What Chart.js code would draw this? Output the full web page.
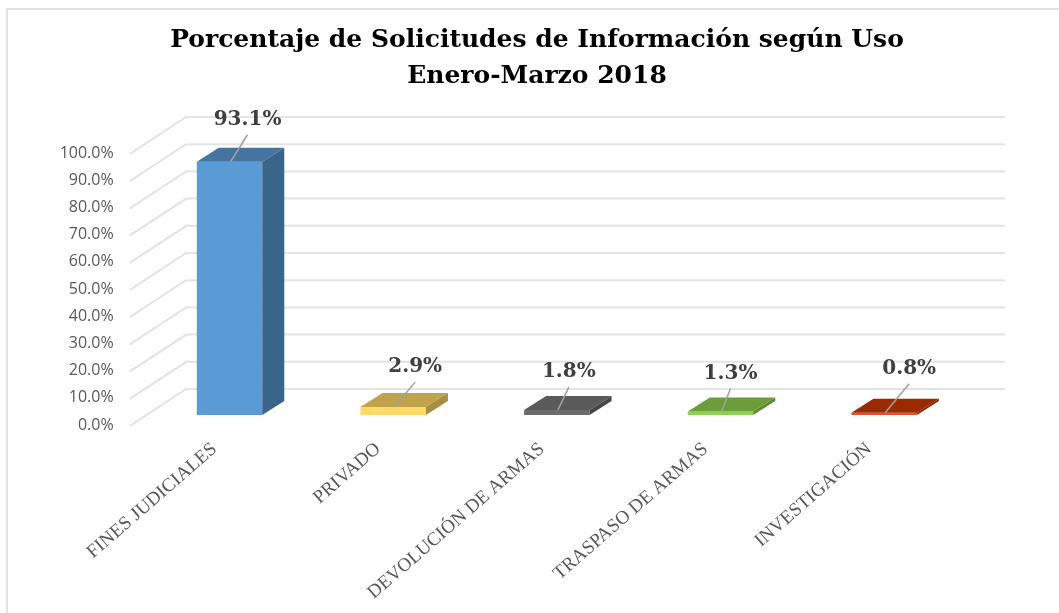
<!DOCTYPE html>
<html>
<head>
<meta charset="utf-8">
<title>Porcentaje de Solicitudes</title>
<script src="https://cdn.jsdelivr.net/npm/chart.js@4"></script>
<style>
html, body { margin: 0; padding: 0; background: #fff; overflow: hidden; }
#wrap { position: relative; width: 1059px; height: 613px; }
#frame { position: absolute; left: 6px; top: 8px; right: 0; bottom: 0; border-top: 2px solid #e2e2e2; border-left: 2px solid #e2e2e2; }
</style>
</head>
<body>
<div id="wrap">
  <div id="frame"></div>
  <canvas id="usoChart" width="1059" height="613"></canvas>
</div>
<script>
const titleLines = ['Porcentaje de Solicitudes de Información según Uso', 'Enero-Marzo 2018'];
const categories = ['FINES JUDICIALES', 'PRIVADO', 'DEVOLUCIÓN DE ARMAS', 'TRASPASO DE ARMAS', 'INVESTIGACIÓN'];
const values = [93.1, 2.9, 1.8, 1.3, 0.8];
const frontColors = ['#5b9bd5', '#ffd966', '#6b6b6b', '#8ed04f', '#e2532a'];
const topColors = ['#44749f', '#bfa34b', '#5a5a5a', '#6d9c3b', '#9c2a00'];
const sideColors = ['#3a658a', '#a68e40', '#474747', '#5c8a31', '#862400'];
const labelShift = [[18, -42], [22, -40], [12, -38], [10, -38], [25, -44]];

// the bars sit in the middle of the floor, the grid on the back wall
const barLift = -10;
const depthX = 22, depthY = -14;

const fake3d = {
    id: 'fake3d',
    beforeDatasetsDraw(chart) {
        const ctx = chart.ctx;
        const yScale = chart.scales.y;
        const left = chart.chartArea.left;
        ctx.save();
        ctx.strokeStyle = '#e3e3e3';
        ctx.lineWidth = 2;
        yScale.ticks.forEach(t => {
            const y = yScale.getPixelForValue(t.value);
            ctx.beginPath();
            ctx.moveTo(left - 18, y + 1);
            ctx.lineTo(left + 38.5, y - 36);
            ctx.lineTo(1005, y - 36);
            ctx.stroke();
        });
        ctx.restore();
        // move the native bars up on to the floor
        ctx.save();
        ctx.translate(0, barLift);
    },
    afterDatasetsDraw(chart) {
        const ctx = chart.ctx;
        ctx.restore();
        chart.getDatasetMeta(0).data.forEach((bar, i) => {
            const half = bar.width / 2;
            const l = bar.x - half, r = bar.x + half;
            const t = bar.y + barLift, b = bar.base + barLift;
            ctx.fillStyle = topColors[i];
            ctx.beginPath();
            ctx.moveTo(l, t);
            ctx.lineTo(l + depthX, t + depthY);
            ctx.lineTo(r + depthX, t + depthY);
            ctx.lineTo(r, t);
            ctx.closePath();
            ctx.fill();
            ctx.fillStyle = sideColors[i];
            ctx.beginPath();
            ctx.moveTo(r, t);
            ctx.lineTo(r + depthX, t + depthY);
            ctx.lineTo(r + depthX, b + depthY);
            ctx.lineTo(r, b);
            ctx.closePath();
            ctx.fill();

            const lx = bar.x + labelShift[i][0], ly = t + labelShift[i][1];
            ctx.strokeStyle = '#a0a0a0';
            ctx.lineWidth = 1.5;
            ctx.beginPath();
            ctx.moveTo(bar.x + 1, t);
            ctx.lineTo(lx, ly + 15);
            ctx.stroke();
            ctx.fillStyle = '#404040';
            ctx.font = 'bold 20px "DejaVu Serif"';
            ctx.textAlign = 'center';
            ctx.textBaseline = 'middle';
            ctx.fillText(values[i].toFixed(1) + '%', lx, ly);
        });
    }
};

new Chart(document.getElementById('usoChart').getContext('2d'), {
    type: 'bar',
    data: {
        labels: categories,
        datasets: [{
            data: values,
            backgroundColor: frontColors,
            barPercentage: 0.4,
            categoryPercentage: 1,
            clip: false
        }]
    },
    plugins: [fake3d],
    options: {
        responsive: false,
        animation: false,
        layout: { padding: { left: 15, right: 0, top: 22, bottom: 0 } },
        plugins: {
            legend: { display: false },
            tooltip: { enabled: false },
            title: {
                display: true,
                text: titleLines,
                color: '#000',
                font: { family: '"DejaVu Serif"', size: 25, weight: 'bold', lineHeight: 1.44 },
                padding: { top: 0, bottom: 59 }
            }
        },
        scales: {
            y: {
                min: 0,
                max: 100,
                afterFit(s) { s.width = 132.7; s.paddingTop = 0; s.paddingBottom = 0; },
                border: { display: false },
                grid: { display: false },
                ticks: {
                    stepSize: 10,
                    padding: 26,
                    color: '#595959',
                    font: { family: '"Open Sans"', size: 16 },
                    callback: v => v.toFixed(1) + '%'
                }
            },
            // empty axis, only holds the room on the right of the plot
            spacer: {
                position: 'right',
                afterFit(s) { s.width = 93; s.paddingTop = 0; s.paddingBottom = 0; },
                border: { display: false },
                grid: { display: false },
                ticks: { display: false }
            },
            x: {
                afterFit(s) { s.height = 188; s.paddingLeft = 0; s.paddingRight = 0; },
                border: { display: false },
                grid: { display: false },
                ticks: {
                    autoSkip: false,
                    minRotation: 41,
                    maxRotation: 41,
                    padding: 5,
                    labelOffset: -15,
                    color: '#595959',
                    font: { family: '"Liberation Serif"', size: 19 }
                }
            }
        }
    }
});
</script>
</body>
</html>
